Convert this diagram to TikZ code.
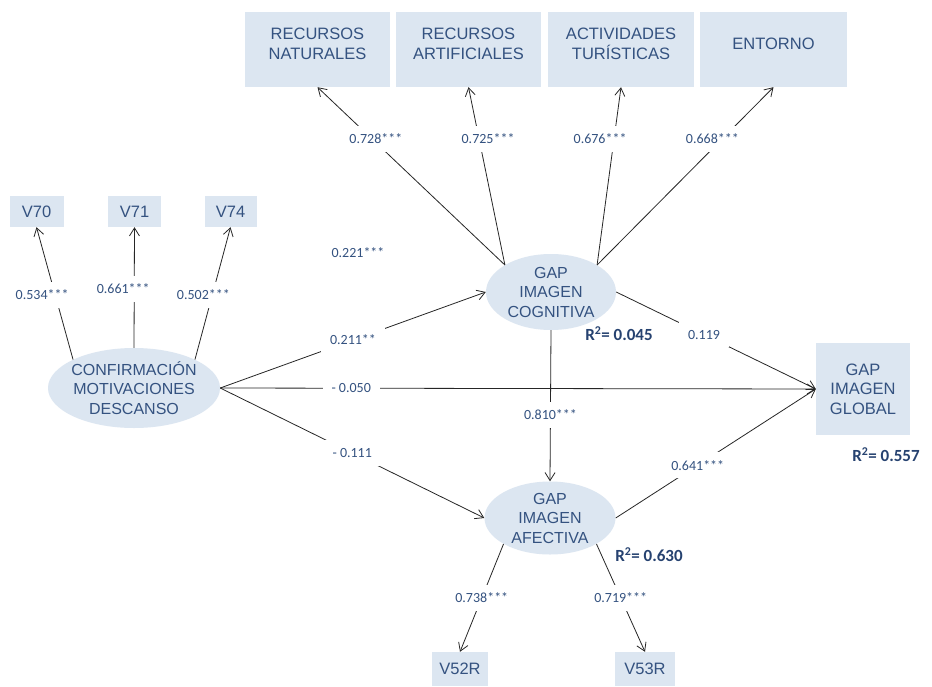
\documentclass[tikz,border=0pt]{standalone}
\usepackage{fontspec}
\setmainfont{Liberation Sans}
\newfontfamily\calib{Carlito}
\usetikzlibrary{shapes.geometric,arrows.meta}
\definecolor{txtblue}{RGB}{52,82,128}
\definecolor{rblue}{RGB}{38,66,112}
\definecolor{boxfill}{RGB}{220,230,241}
\begin{document}
\begin{tikzpicture}[x=1pt,y=-1pt,
  var/.style={rectangle, fill=boxfill, draw=none, text=txtblue, font=\fontsize{16.5}{19.5}\selectfont, align=center, inner sep=0pt},
  topbox/.style={var, minimum height=75, text depth=12pt},
  lat/.style={ellipse, fill=boxfill, draw=none, text=txtblue, font=\fontsize{16}{19.5}\selectfont, align=center, inner xsep=-3pt, inner ysep=-5pt},
  con/.style={draw=black!85, line width=0.8pt, -{Straight Barb[length=8pt,width=10pt,line width=0.8pt]}},
  lab/.style={fill=white, text=txtblue, font=\calib\fontsize{14}{16}\selectfont, inner xsep=9pt, inner ysep=8pt},
  free/.style={text=txtblue, font=\calib\fontsize{14}{16}\selectfont, inner sep=0pt},
  rsq/.style={text=rblue, font=\calib\bfseries\fontsize{17}{19}\selectfont, inner sep=0pt}]
\useasboundingbox (0,0) rectangle (932,686);
\fill[white] (0,0) rectangle (932,686);

% top indicator boxes
\node[topbox, minimum width=145] (natur) at (317.5,49.5) {RECURSOS\\NATURALES};
\node[topbox, minimum width=145] (artif) at (468.5,49.5) {RECURSOS\\ARTIFICIALES};
\node[topbox, minimum width=146] (activ) at (621,49.5) {ACTIVIDADES\\TURÍSTICAS};
\node[topbox, minimum width=147] (entor) at (773.5,49.5) {ENTORNO};

% left indicators
\node[var, minimum width=54, minimum height=31] (v70) at (36.5,211.5) {V70};
\node[var, minimum width=53, minimum height=31] (v71) at (134.5,211.5) {V71};
\node[var, minimum width=52, minimum height=31] (v74) at (230.5,211.5) {V74};

% latent constructs
\node[lat, minimum width=172, minimum height=80] (conf) at (134,388) {CONFIRMACIÓN\\MOTIVACIONES\\DESCANSO};
\node[lat, minimum width=130, minimum height=76] (cog) at (551,292) {GAP\\IMAGEN\\COGNITIVA};
\node[lat, minimum width=131, minimum height=73] (afe) at (550,518) {GAP\\IMAGEN\\AFECTIVA};
\node[var, minimum width=94, minimum height=92] (glob) at (863,389) {GAP\\IMAGEN\\GLOBAL};

% bottom indicators
\node[var, minimum width=56, minimum height=34] (v52) at (460,669) {V52R};
\node[var, minimum width=60, minimum height=34] (v53) at (645,669) {V53R};

% cognitive loadings
\draw[con] (cog.north west) -- node[lab, pos=0.71, xshift=4] {0.728***} (natur.south);
\draw[con] (cog.north west) -- node[lab, pos=0.71, xshift=9] {0.725***} (artif.south);
\draw[con] (cog.north east) -- node[lab, pos=0.71, xshift=-14] {0.676***} (activ.south);
\draw[con] (cog.north east) -- node[lab, pos=0.71, xshift=-10] {0.668***} (entor.south);

% motivation loadings
\draw[con] (conf.north west) -- node[lab, pos=0.49, xshift=-13] {0.534***} (v70.south);
\draw[con] (conf.north) -- node[lab, pos=0.49, xshift=-11] {0.661***} (v71.south);
\draw[con] (conf.north east) -- node[lab, pos=0.49, xshift=-9] {0.502***} (v74.south);

% structural paths
\node[free] (p221) at (358,253) {0.221***};
\draw[con] (conf.east) -- node[lab, pos=0.5] {0.211**} (cog.west);
\draw[con] (conf.east) -- node[lab, pos=0.22] {- 0.050} (glob.west);
\draw[con] (conf.east) -- node[lab, pos=0.5] {- 0.111} (afe.west);
\draw[con] (cog.south) -- node[lab, pos=0.56] {0.810***} (afe.north);
\draw[con] (cog.east) -- node[lab, pos=0.44] {0.119} (glob.west);
\draw[con] (afe.east) -- node[lab, pos=0.41] {0.641***} (glob.west);

% affective loadings
\draw[con] (afe.south west) -- node[lab, pos=0.5] {0.738***} (v52.north);
\draw[con] (afe.south east) -- node[lab, pos=0.5] {0.719***} (v53.north);

% R squared
\node[rsq] (r1) at (619,334) {R\textsuperscript{2}= 0.045};
\node[rsq] (r2) at (886,455) {R\textsuperscript{2}= 0.557};
\node[rsq] (r3) at (649,555) {R\textsuperscript{2}= 0.630};
\end{tikzpicture}
\end{document}
